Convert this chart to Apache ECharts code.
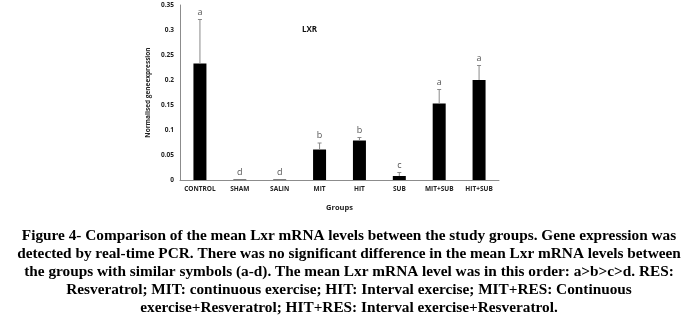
<!DOCTYPE html>
<html>
<head>
<meta charset="utf-8">
<script src="https://cdn.jsdelivr.net/npm/echarts@6/dist/echarts.min.js"></script>
<style>
  html, body { margin: 0; padding: 0; background: #fff; }
  #chart { width: 698px; height: 329px; }
</style>
</head>
<body>
<div id="chart"></div>
<script>
// Groups and mean normalised Lxr expression
const groups = ['CONTROL', 'SHAM', 'SALIN', 'MIT', 'HIT', 'SUB', 'MIT+SUB', 'HIT+SUB'];
const means = [0.233, 0.001, 0.001, 0.061, 0.079, 0.008, 0.153, 0.200];
const errors = [0.088, 0, 0, 0.013, 0.006, 0.007, 0.028, 0.029];
const letters = ['a', 'd', 'd', 'b', 'b', 'c', 'a', 'a'];
const yTicks = [0, 0.05, 0.1, 0.15, 0.2, 0.25, 0.3, 0.35];

const captionLines = [
  'Figure 4- Comparison of the mean Lxr mRNA levels between the study groups. Gene expression was',
  'detected by real-time PCR. There was no significant difference in the mean Lxr mRNA levels between',
  'the groups with similar symbols (a-d). The mean Lxr mRNA level was in this order: a>b>c>d. RES:',
  'Resveratrol; MIT: continuous exercise; HIT: Interval exercise; MIT+RES: Continuous',
  'exercise+Resveratrol; HIT+RES: Interval exercise+Resveratrol.'
];

const chart = echarts.init(document.getElementById('chart'));

const errData = groups.map((g, i) => [i, means[i], means[i] + errors[i]]);

const captionGraphics = captionLines.map((t, i) => ({
  type: 'text',
  left: 'center',
  top: 229 + i * 17.9,
  style: {
    text: t,
    font: 'bold 15.3px "Liberation Serif", "Times New Roman", serif',
    fill: '#000'
  }
}));

chart.setOption({
  animation: false,
  grid: { left: 180, right: 199, top: 5, bottom: 149 },
  xAxis: {
    type: 'category',
    data: groups,
    axisLine: { lineStyle: { color: '#8c8c8c', width: 1 } },
    axisTick: { show: false },
    axisLabel: {
      color: '#222', fontSize: 6.5, fontWeight: 'bold',
      fontFamily: 'Open Sans, Liberation Sans, sans-serif',
      margin: 6, interval: 0
    },
    name: 'Groups',
    nameLocation: 'middle',
    nameGap: 24,
    nameTextStyle: {
      color: '#222', fontSize: 7.5, fontWeight: 'bold',
      fontFamily: 'Open Sans, Liberation Sans, sans-serif'
    }
  },
  yAxis: {
    type: 'value',
    min: 0, max: 0.35, interval: 0.05,
    axisLine: { show: true, lineStyle: { color: '#8c8c8c', width: 1 } },
    axisTick: { show: false },
    splitLine: { show: false },
    axisLabel: {
      color: '#222', fontSize: 6.5, fontWeight: 'bold',
      fontFamily: 'Open Sans, Liberation Sans, sans-serif',
      margin: 6,
      formatter: v => {
        const t = yTicks.find(x => Math.abs(x - v) < 1e-9);
        return t === 0 ? '0' : String(+t.toFixed(2));
      }
    },
    name: 'Normalised geneexpression',
    nameLocation: 'middle',
    nameGap: 28,
    nameTextStyle: {
      color: '#222', fontSize: 6.5, fontWeight: 'bold',
      fontFamily: 'Open Sans, Liberation Sans, sans-serif'
    }
  },
  title: {
    text: 'LXR',
    left: 297, top: 21,
    textStyle: {
      color: '#111', fontSize: 8, fontWeight: 'bold',
      fontFamily: 'Open Sans, Liberation Sans, sans-serif'
    }
  },
  graphic: captionGraphics,
  series: [
    {
      type: 'bar',
      data: means,
      barWidth: 13,
      itemStyle: { color: '#000' }
    },
    {
      type: 'custom',
      data: errData,
      z: 5,
      renderItem: (params, api) => {
        const x = api.value(0);
        const lo = api.coord([x, api.value(1)]);
        const hi = api.coord([x, api.value(2)]);
        const cap = 2;
        const i = params.dataIndex;
        const children = [];
        if (errors[i] > 0) {
          children.push({
            type: 'line',
            shape: { x1: lo[0], y1: lo[1], x2: hi[0], y2: hi[1] },
            style: { stroke: '#8a8a8a', lineWidth: 1 }
          });
          children.push({
            type: 'line',
            shape: { x1: hi[0] - cap, y1: hi[1], x2: hi[0] + cap, y2: hi[1] },
            style: { stroke: '#8a8a8a', lineWidth: 1 }
          });
        }
        children.push({
          type: 'text',
          style: {
            text: letters[i],
            x: hi[0], y: hi[1] - 3,
            align: 'center', verticalAlign: 'bottom',
            font: '9px "Open Sans", "Liberation Sans", sans-serif',
            fill: '#555'
          }
        });
        return { type: 'group', children };
      }
    }
  ]
});
</script>
</body>
</html>
